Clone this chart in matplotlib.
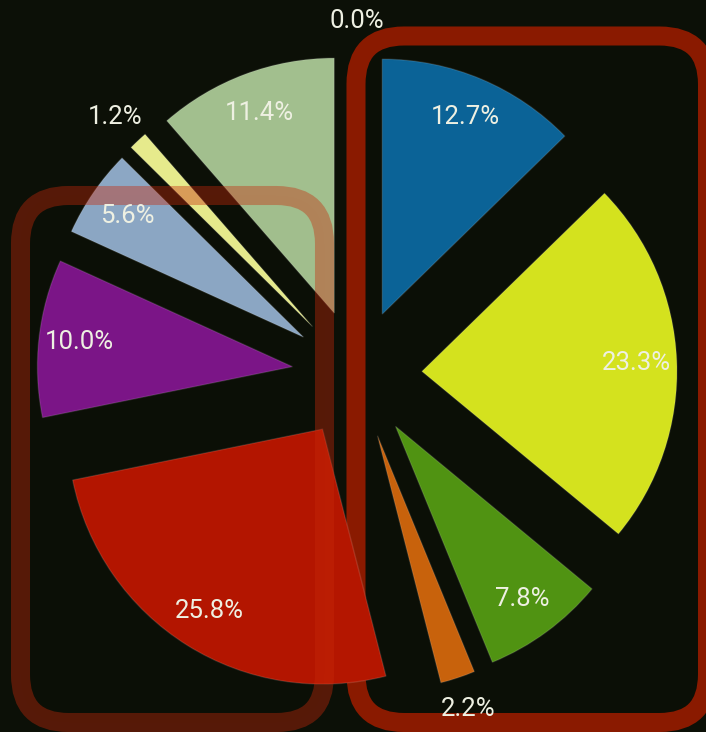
import numpy as np
import matplotlib.pyplot as plt
from matplotlib.patches import FancyBboxPatch

# slice shares, clockwise from the top
shares = [12.7, 23.3, 7.8, 2.2, 25.8, 10.0, 5.6, 1.2, 11.4, 0.0]
colors = ['#0b6397', '#d4e21e', '#509312', '#c8620c', '#b41600',
          '#7c1688', '#8ca7c4', '#e6ea8c', '#a2bf8e', '#c0c0c0']

bg = '#0c1007'
fig = plt.figure(figsize=(7.06, 7.32), dpi=100)
fig.patch.set_facecolor(bg)
ax = fig.add_axes([0, 0, 1, 1])

# right box sits under the pie
# near-invisible face so agg doesn't clip (and bend) the part off the canvas
right_box = FancyBboxPatch((356, 9.5), 351.5, 686.5,
                           boxstyle='round,pad=0,rounding_size=48',
                           facecolor=(0, 0, 0, 0.003), edgecolor='#8a1a00',
                           linewidth=13.7, zorder=0, clip_on=False)
ax.add_patch(right_box)

wedges, texts, pcts = ax.pie(
    shares, colors=colors, explode=[65] * len(shares),
    center=(357, 358), radius=255, startangle=90, counterclock=False,
    autopct='%1.1f%%', pctdistance=0.84,
    wedgeprops=dict(linewidth=1.0, edgecolor=(1, 1, 1, 0.12)),
    textprops=dict(color='#eef0e2', fontsize=18.5, family='Roboto'))

# small slices get their label outside the tip
for w, t, s in zip(wedges, pcts, shares):
    if s == 0:
        w.set_linewidth(0)
    if s < 3:
        ang = np.deg2rad((w.theta1 + w.theta2) / 2)
        cx, cy = w.center
        t.set_position((cx + 1.13 * w.r * np.cos(ang),
                        cy + 1.13 * w.r * np.sin(ang)))
    t.set_zorder(5)

# left box is a translucent overlay on top of the pie
left_box = FancyBboxPatch((20.5, 9.5), 304, 527,
                          boxstyle='round,pad=0,rounding_size=48',
                          facecolor=(0, 0, 0, 0.003),
                          edgecolor=(0.78, 0.16, 0.04, 0.4),
                          linewidth=13.7, zorder=4, clip_on=False)
ax.add_patch(left_box)

ax.set_xlim(0, 706)
ax.set_ylim(0, 732)
ax.set_aspect('equal')
ax.axis('off')

fig.savefig('out.png', dpi=100, facecolor=fig.get_facecolor())
